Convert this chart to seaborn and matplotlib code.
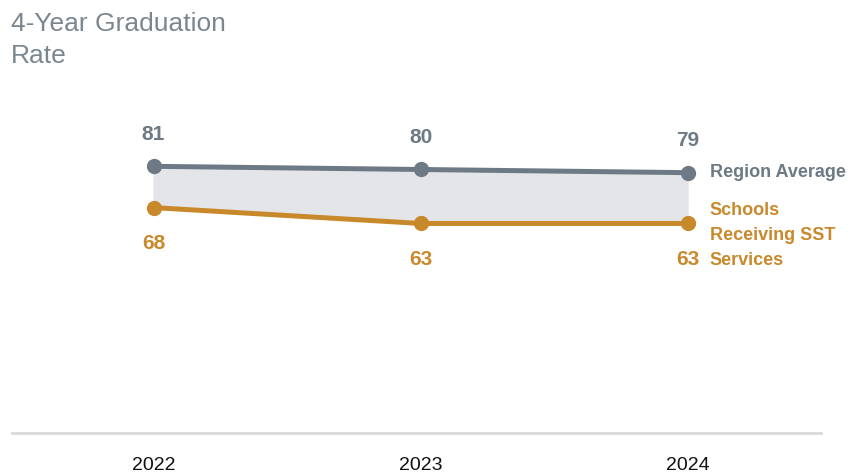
import matplotlib
matplotlib.use("Agg")
import matplotlib.pyplot as plt
import seaborn as sns
import pandas as pd

years = ["2022", "2023", "2024"]
region_avg = [81, 80, 79]
sst_schools = [68, 63, 63]
region_name = "Region Average"
sst_name = "Schools\nReceiving SST\nServices"

grey = "#6d7a85"
orange = "#c8892b"

sns.set_style("white")
plt.rcParams["font.family"] = ["Liberation Sans", "DejaVu Sans"]

df = pd.DataFrame({
    "x": list(range(len(years))) * 2,
    "rate": region_avg + sst_schools,
    "group": [region_name] * 3 + [sst_name] * 3,
})

fig = plt.figure(figsize=(8.62, 4.75), dpi=100)
ax = fig.add_axes([12 / 862, 42 / 475, 809 / 862, 327 / 475])

xs = list(range(len(years)))
ax.fill_between(xs, sst_schools, region_avg, color="#e4e5e9", zorder=1)

sns.lineplot(data=df, x="x", y="rate", hue="group",
             palette={region_name: grey, sst_name: orange},
             linewidth=3.6, marker="o", markersize=11, markeredgewidth=0,
             legend=False, ax=ax, zorder=3)

for x, v in zip(xs, region_avg):
    ax.annotate(str(v), (x, v), xytext=(0, 32), textcoords="offset pixels",
                ha="center", va="center", fontsize=15, fontweight="bold", color=grey)
for x, v in zip(xs, sst_schools):
    ax.annotate(str(v), (x, v), xytext=(0, -36), textcoords="offset pixels",
                ha="center", va="center", fontsize=15, fontweight="bold", color=orange)

# series labels at the right end
ax.annotate(region_name, (xs[-1], region_avg[-1]), xytext=(22, 0), textcoords="offset pixels",
            ha="left", va="center", fontsize=13, fontweight="bold", color=grey)
ax.annotate(sst_name, (xs[-1], sst_schools[-1]), xytext=(22, -12), textcoords="offset pixels",
            ha="left", va="center", fontsize=13, fontweight="bold", color=orange,
            linespacing=1.6)

ax.set_xlim(-0.53, 2.5)
ax.set_ylim(-3, 100)
ax.set_xticks(xs)
ax.set_xticklabels(years, fontsize=14, color="#111111")
ax.tick_params(axis="x", length=0, pad=17)
ax.set_yticks([])
ax.set_xlabel("")
ax.set_ylabel("")
for side in ["top", "left", "right"]:
    ax.spines[side].set_visible(False)
ax.spines["bottom"].set_color("#d9d9d9")
ax.spines["bottom"].set_linewidth(2)

fig.text(11 / 862, 1 - 12 / 475, "4-Year Graduation\nRate", ha="left", va="top",
         fontsize=19, color="#7a8690", linespacing=1.4)

fig.savefig("out.png", dpi=100)
